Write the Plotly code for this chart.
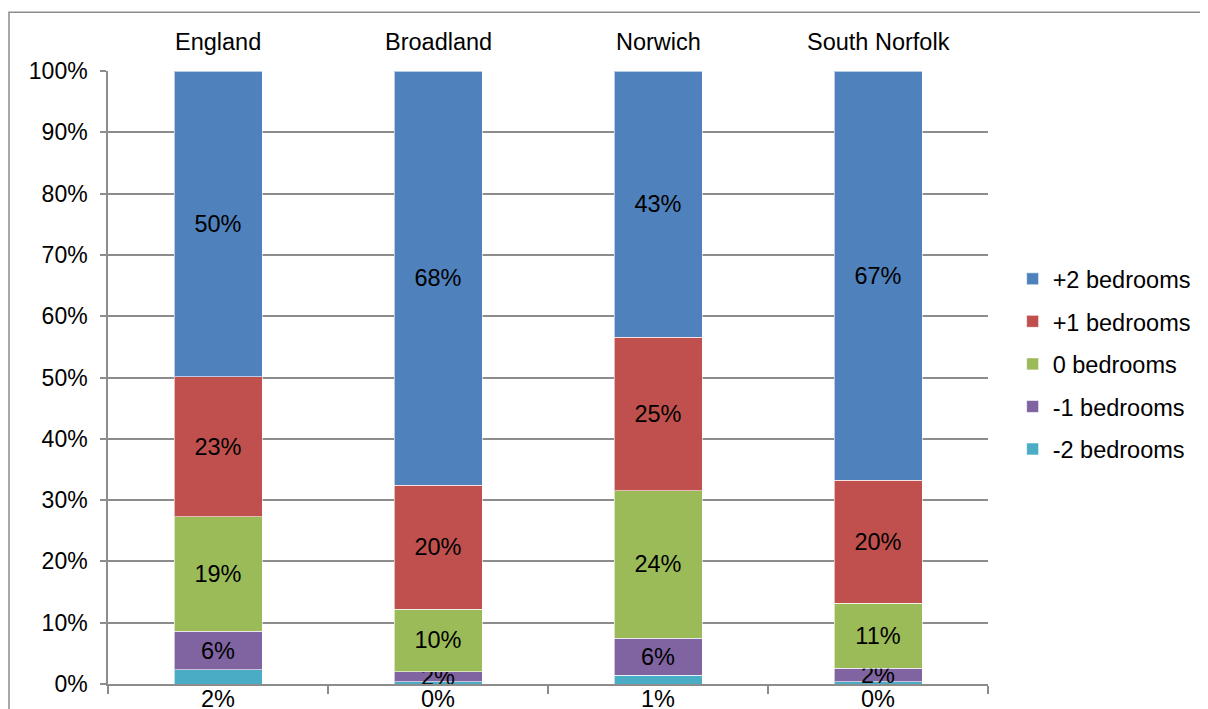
import plotly.graph_objects as go

# Areas and share of households by bedroom difference (percent)
areas = ["England", "Broadland", "Norwich", "South Norfolk"]
minus2 = [2.3, 0.4, 1.4, 0.4]
minus1 = [6.3, 1.6, 6.1, 2.2]
zero = [18.7, 10.2, 24.0, 10.6]
plus1 = [22.8, 20.2, 25.1, 20.0]
plus2 = [49.9, 67.6, 43.4, 66.8]

series = [
    ("-2 bedrooms", minus2, "#4BACC6"),
    ("-1 bedrooms", minus1, "#8064A2"),
    ("0 bedrooms", zero, "#9BBB59"),
    ("+1 bedrooms", plus1, "#C0504D"),
    ("+2 bedrooms", plus2, "#4F81BD"),
]

FONT = "Liberation Sans, Arial, sans-serif"
GRID = "#8C8C8C"
FS = 23.5

fig = go.Figure()
for i, (name, vals, col) in enumerate(series):
    fig.add_trace(go.Bar(
        x=areas, y=vals, name=name, legendgroup=name,
        legendrank=len(series) - i,
        marker=dict(color=col, line=dict(color="rgba(255,255,255,0.6)", width=1)),
        texttemplate="%{y:.0f}%" if name != "-2 bedrooms" else None,
        textposition="inside", insidetextanchor="middle",
        textfont=dict(color="black", size=FS, family=FONT),
        hoverinfo="skip",
    ))

# -2 bedroom labels sit under the bars
for a, v in zip(areas, minus2):
    fig.add_annotation(x=a, y=0, text=f"{v:.0f}%", showarrow=False,
                       yanchor="top", yshift=0,
                       font=dict(size=FS, color="black", family=FONT))

# category names along the top
for a in areas:
    fig.add_annotation(x=a, y=1, yref="paper", text=a, showarrow=False,
                       yanchor="middle", yshift=29,
                       font=dict(size=FS, color="black", family=FONT))

# outer chart border
fig.add_shape(type="rect", xref="paper", yref="paper",
              x0=-0.1125, x1=1.26, y0=-0.1, y1=1.096,
              line=dict(color="#8C8C8C", width=1.5), layer="below")

fig.update_layout(
    width=1200, height=701,
    margin=dict(l=100, r=220, t=63, b=23),
    barmode="stack", bargap=0.6,
    plot_bgcolor="white", paper_bgcolor="white",
    font=dict(family=FONT, size=FS, color="black"),
    uniformtext=dict(mode="show", minsize=FS),
    legend=dict(x=1.028, y=0.522, xanchor="left", yanchor="middle",
                traceorder="grouped", tracegroupgap=9,
                itemwidth=30, font=dict(size=FS, family=FONT)),
)
fig.update_xaxes(showticklabels=False, tickson="boundaries", ticks="outside",
                 ticklen=8, tickcolor=GRID, tickwidth=1.5,
                 showline=True, linecolor=GRID, linewidth=1.5, showgrid=False)
fig.update_yaxes(range=[0, 100], dtick=10, ticksuffix="%", ticks="outside",
                 ticklen=6, tickcolor=GRID, tickwidth=1.5,
                 showline=True, linecolor=GRID, linewidth=1.5,
                 showgrid=True, gridcolor=GRID, gridwidth=1.5,
                 zeroline=False, ticklabelstandoff=8,
                 tickfont=dict(size=23, family=FONT))

fig.write_html("out.html")
